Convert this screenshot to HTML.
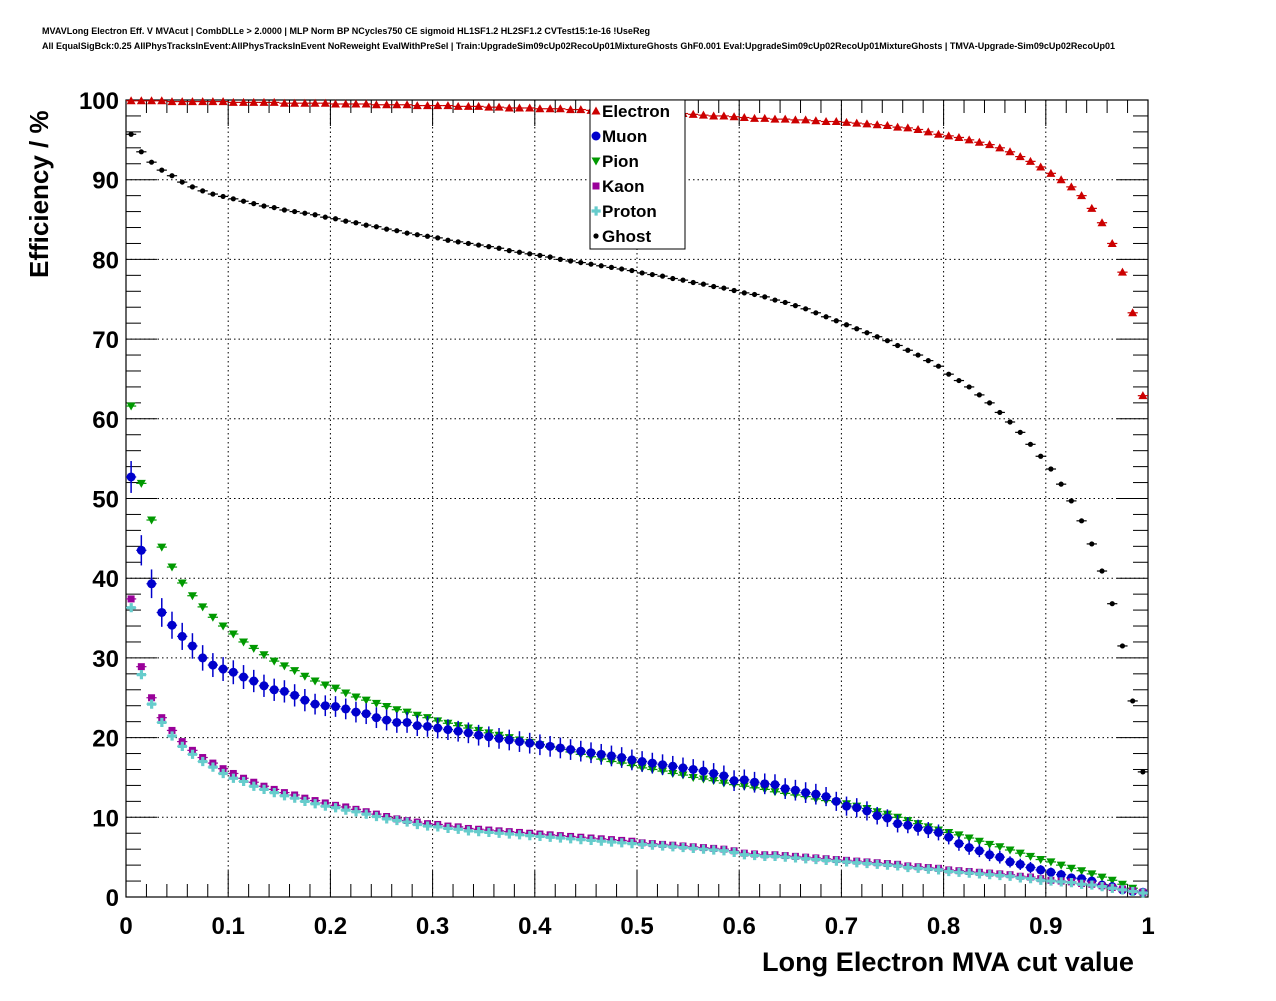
<!DOCTYPE html>
<html><head><meta charset="utf-8"><style>
body{margin:0;background:#fff;width:1276px;height:996px;overflow:hidden;font-family:"Liberation Sans",sans-serif}
svg text{font-family:"Liberation Sans",sans-serif;font-weight:bold}
</style></head><body>
<svg id="chart" width="1276" height="996" xmlns="http://www.w3.org/2000/svg">
<text x="42" y="34" font-size="9" textLength="608" lengthAdjust="spacingAndGlyphs">MVAVLong Electron Eff. V MVAcut | CombDLLe &gt; 2.0000 | MLP Norm BP NCycles750 CE sigmoid HL1SF1.2 HL2SF1.2 CVTest15:1e-16 !UseReg</text>
<text x="42" y="49" font-size="9" textLength="1073" lengthAdjust="spacingAndGlyphs">All EqualSigBck:0.25 AllPhysTracksInEvent:AllPhysTracksInEvent NoReweight EvalWithPreSel | Train:UpgradeSim09cUp02RecoUp01MixtureGhosts GhF0.001 Eval:UpgradeSim09cUp02RecoUp01MixtureGhosts | TMVA-Upgrade-Sim09cUp02RecoUp01</text>
<g id="grid"></g>
<g id="axes"></g>
<g id="marks"></g>
<text transform="translate(48,278) rotate(-90)" font-size="26">Efficiency / %</text>
<text x="1134" y="971" font-size="27" text-anchor="end" textLength="372" lengthAdjust="spacingAndGlyphs">Long Electron MVA cut value</text>
<g id="legend"></g>
</svg>
<script>
const xTicks=[0,0.1,0.2,0.3,0.4,0.5,0.6,0.7,0.8,0.9,1];
const xTickLabels=["0","0.1","0.2","0.3","0.4","0.5","0.6","0.7","0.8","0.9","1"];
const yTicks=[0,10,20,30,40,50,60,70,80,90,100];
const seriesNames=["Electron","Muon","Pion","Kaon","Proton","Ghost"];
const electron=[99.9,99.9,99.9,99.9,99.8,99.8,99.8,99.8,99.8,99.8,99.7,99.7,99.7,99.7,99.7,99.6,99.6,99.6,99.6,99.6,99.5,99.5,99.5,99.5,99.4,99.4,99.4,99.4,99.3,99.3,99.3,99.3,99.2,99.2,99.2,99.1,99.1,99.0,99.0,99.0,98.9,98.9,98.9,98.8,98.8,98.7,98.7,98.7,98.6,98.6,98.6,98.5,98.5,98.4,98.3,98.2,98.1,98.0,98.0,97.9,97.8,97.7,97.7,97.6,97.6,97.5,97.5,97.4,97.3,97.3,97.2,97.1,97.0,96.9,96.8,96.6,96.5,96.3,96.0,95.7,95.5,95.3,95.0,94.7,94.4,94.0,93.5,92.9,92.3,91.6,90.8,90.0,89.1,88.0,86.4,84.6,82.0,78.4,73.3,62.9];
const muon=[52.7,43.5,39.3,35.7,34.1,32.7,31.5,30.0,29.1,28.6,28.2,27.6,27.1,26.5,26.0,25.8,25.3,24.7,24.2,24.0,23.9,23.6,23.2,23.0,22.5,22.2,21.9,21.9,21.5,21.4,21.2,21.0,20.8,20.6,20.3,20.1,19.9,19.7,19.5,19.3,19.1,18.9,18.7,18.5,18.3,18.1,17.9,17.7,17.5,17.2,17.0,16.8,16.6,16.4,16.2,16.0,15.8,15.5,15.2,14.6,14.7,14.4,14.2,14.1,13.6,13.4,13.1,12.9,12.6,12.0,11.4,11.2,10.8,10.2,9.9,9.2,9.0,8.7,8.4,8.1,7.5,6.7,6.2,5.8,5.3,5.0,4.4,4.1,3.7,3.4,3.1,2.8,2.4,2.3,2.0,1.5,1.3,0.9,0.7,0.6];
const muonErr=[2.0,1.9,1.8,1.8,1.7,1.7,1.6,1.6,1.5,1.5,1.5,1.5,1.4,1.4,1.4,1.4,1.4,1.4,1.3,1.3,1.3,1.3,1.3,1.3,1.3,1.3,1.3,1.3,1.3,1.3,1.3,1.3,1.3,1.3,1.3,1.3,1.3,1.3,1.3,1.3,1.3,1.3,1.3,1.3,1.3,1.3,1.3,1.3,1.3,1.3,1.3,1.3,1.3,1.3,1.3,1.3,1.3,1.3,1.3,1.3,1.3,1.3,1.3,1.3,1.3,1.3,1.3,1.3,1.2,1.2,1.2,1.2,1.2,1.1,1.1,1.1,1.0,1.0,1.0,1.0,0.9,0.9,0.9,0.8,0.8,0.8,0.7,0.7,0.7,0.6,0.6,0.6,0.5,0.5,0.5,0.4,0.4,0.3,0.3,0.3];
const pion=[61.6,51.9,47.3,43.9,41.4,39.4,37.8,36.4,35.1,34.0,33.0,32.0,31.2,30.4,29.6,29.0,28.4,27.7,27.1,26.6,26.2,25.6,25.1,24.7,24.3,23.9,23.5,23.2,22.8,22.5,22.1,21.8,21.5,21.2,20.9,20.6,20.3,20.0,19.7,19.4,19.1,18.8,18.5,18.2,17.9,17.6,17.3,17.0,16.8,16.5,16.2,16.0,15.8,15.5,15.3,15.0,14.8,14.6,14.3,14.1,13.9,13.7,13.5,13.2,13.0,12.8,12.6,12.3,12.1,11.9,11.7,11.4,11.1,10.7,10.4,10.0,9.6,9.2,8.8,8.4,8.1,7.8,7.4,7.0,6.6,6.3,5.9,5.5,5.1,4.7,4.4,4.0,3.6,3.3,2.9,2.5,2.1,1.6,1.1,0.5];
const kaon=[37.4,28.9,25.0,22.5,20.9,19.5,18.4,17.5,16.8,16.1,15.5,14.9,14.4,13.9,13.5,13.1,12.8,12.4,12.1,11.8,11.5,11.3,11.0,10.7,10.4,10.1,9.8,9.6,9.4,9.2,9.1,8.9,8.8,8.6,8.5,8.4,8.3,8.2,8.1,8.0,7.9,7.8,7.7,7.6,7.5,7.4,7.3,7.2,7.1,7.0,6.8,6.7,6.6,6.5,6.4,6.3,6.2,6.1,6.0,5.8,5.5,5.4,5.3,5.3,5.2,5.1,5.0,4.9,4.8,4.7,4.6,4.5,4.4,4.3,4.2,4.1,3.9,3.8,3.7,3.6,3.4,3.3,3.2,3.1,3.0,2.9,2.8,2.6,2.5,2.3,2.1,2.0,1.9,1.7,1.6,1.4,1.2,1.0,0.8,0.6];
const proton=[36.3,27.9,24.2,21.9,20.2,18.9,17.9,17.0,16.3,15.5,14.9,14.5,13.9,13.5,13.1,12.7,12.4,12.0,11.7,11.4,11.2,10.9,10.7,10.4,10.1,9.8,9.6,9.4,9.1,8.9,8.8,8.6,8.5,8.3,8.2,8.1,8.0,7.9,7.8,7.7,7.6,7.5,7.4,7.3,7.2,7.1,7.0,6.9,6.8,6.7,6.6,6.5,6.4,6.3,6.2,6.1,6.0,5.9,5.8,5.6,5.3,5.2,5.1,5.1,5.0,4.9,4.8,4.7,4.6,4.5,4.4,4.3,4.2,4.1,4.0,3.9,3.7,3.6,3.5,3.4,3.2,3.1,3.0,2.9,2.8,2.7,2.6,2.4,2.3,2.1,2.0,1.9,1.8,1.6,1.5,1.3,1.1,0.9,0.7,0.5];
const ghost=[95.7,93.5,92.2,91.2,90.5,89.7,89.1,88.6,88.2,87.9,87.6,87.3,87.0,86.7,86.5,86.2,86.0,85.8,85.6,85.3,85.1,84.8,84.6,84.3,84.1,83.8,83.6,83.3,83.1,82.9,82.7,82.4,82.2,82.0,81.8,81.6,81.4,81.1,80.9,80.7,80.5,80.3,80.0,79.8,79.6,79.4,79.2,79.0,78.8,78.6,78.3,78.1,77.9,77.6,77.4,77.1,76.9,76.6,76.4,76.1,75.8,75.6,75.3,74.9,74.6,74.2,73.8,73.3,72.8,72.3,71.8,71.3,70.8,70.3,69.8,69.2,68.6,68.0,67.3,66.6,65.6,64.8,64.0,63.0,62.0,60.8,59.6,58.3,56.8,55.3,53.7,51.8,49.7,47.2,44.3,40.9,36.8,31.5,24.6,15.7];

const NS="http://www.w3.org/2000/svg";
const X0=126,X1=1148,Y0=897,Y1=100;
function sx(v){return X0+(X1-X0)*v;}
function sy(v){return Y0-(Y0-Y1)*v/100;}
function mk(tag,attrs,parent){const e=document.createElementNS(NS,tag);for(const k in attrs)e.setAttribute(k,attrs[k]);parent.appendChild(e);return e;}
const grid=document.getElementById('grid'),axes=document.getElementById('axes'),marks=document.getElementById('marks'),legend=document.getElementById('legend');

xTicks.forEach((t,i)=>{
  if(i>0&&i<xTicks.length-1){const l=mk('line',{x1:sx(t),x2:sx(t),y1:Y1,y2:Y0,stroke:'#000','stroke-width':1,'stroke-dasharray':'1.5,3'},grid);
  
  }
  const tx=mk('text',{x:sx(t),y:934,'font-size':24,'text-anchor':'middle'},axes);tx.textContent=xTickLabels[i];
  
  
});
yTicks.forEach(t=>{
  if(t>0&&t<100){const l=mk('line',{x1:X0,x2:X1,y1:sy(t),y2:sy(t),stroke:'#000','stroke-width':1,'stroke-dasharray':'1.5,3'},grid);
  
  }
  const tx=mk('text',{x:119,y:sy(t)+9,'font-size':24,'text-anchor':'end'},axes);tx.textContent=String(t);
  
  
});
for(let k=0;k<=50;k++){const v=k/50;const len=k%5===0?26:13;
  mk('line',{x1:sx(v),x2:sx(v),y1:Y0,y2:Y0-len,stroke:'#000','stroke-width':1},axes);
  mk('line',{x1:sx(v),x2:sx(v),y1:Y1,y2:Y1+len,stroke:'#000','stroke-width':1},axes);}
for(let k=0;k<=50;k++){const v=k*2;const len=k%5===0?31:15;
  mk('line',{x1:X0,x2:X0+len,y1:sy(v),y2:sy(v),stroke:'#000','stroke-width':1},axes);
  mk('line',{x1:X1,x2:X1-len,y1:sy(v),y2:sy(v),stroke:'#000','stroke-width':1},axes);}
const frame=mk('rect',{x:X0,y:Y1,width:X1-X0,height:Y0-Y1,fill:'none',stroke:'#000','stroke-width':1.2},axes);



function marker(type,cx,cy,color,parent){
  if(type==='tri')return mk('polygon',{points:`${cx},${cy-4.5} ${cx-4.5},${cy+3.5} ${cx+4.5},${cy+3.5}`,fill:color},parent);
  if(type==='itri')return mk('polygon',{points:`${cx},${cy+4.5} ${cx-4.5},${cy-3.5} ${cx+4.5},${cy-3.5}`,fill:color},parent);
  if(type==='circ')return mk('circle',{cx:cx,cy:cy,r:4.5,fill:color},parent);
  if(type==='sq')return mk('rect',{x:cx-3.5,y:cy-3.5,width:7,height:7,fill:color},parent);
  if(type==='cross')return mk('path',{d:`M${cx-4.5},${cy-1.6}h3v-3h3.2v3h3v3.2h-3v3h-3.2v-3h-3z`,fill:color},parent);
  return mk('circle',{cx:cx,cy:cy,r:2.6,fill:color},parent);
}
const series=[
 {name:'ghost',vals:ghost,type:'dot',color:'#000000',err:null},
 {name:'pion',vals:pion,type:'itri',color:'#009900',err:null},
 {name:'muon',vals:muon,type:'circ',color:'#0000cc',err:muonErr},
 {name:'kaon',vals:kaon,type:'sq',color:'#990099',err:null},
 {name:'proton',vals:proton,type:'cross',color:'#66cccc',err:null},
 {name:'electron',vals:electron,type:'tri',color:'#cc0000',err:null}];
series.forEach(s=>{
  const g=mk('g',{},marks);
  
  
  s.vals.forEach((v,i)=>{
    const xc=(i+0.5)/100,xl=sx(i/100),xr=sx((i+1)/100),cy=sy(v),cx=sx(xc);
    mk('line',{x1:xl,x2:xr,y1:cy,y2:cy,stroke:s.color,'stroke-width':1.2},g);
    if(s.err)mk('line',{x1:cx,x2:cx,y1:sy(v+s.err[i]),y2:sy(v-s.err[i]),stroke:s.color,'stroke-width':1.5},g);
    const m=marker(s.type,cx,cy,s.color,g);
    
    
  });
});
const lb=mk('rect',{x:590,y:100,width:95,height:149,fill:'#fff',stroke:'#000','stroke-width':1},legend);


const legTypes=['tri','circ','itri','sq','cross','dot'];
const legColors=['#cc0000','#0000cc','#009900','#990099','#66cccc','#000000'];
seriesNames.forEach((n,i)=>{
  const y=111+i*25;
  const g=mk('g',{},legend);
  
  
  marker(legTypes[i],596,y,legColors[i],g);
  const t=mk('text',{x:602,y:y+6,'font-size':17},g);t.textContent=n;
});
</script>
</body></html>
